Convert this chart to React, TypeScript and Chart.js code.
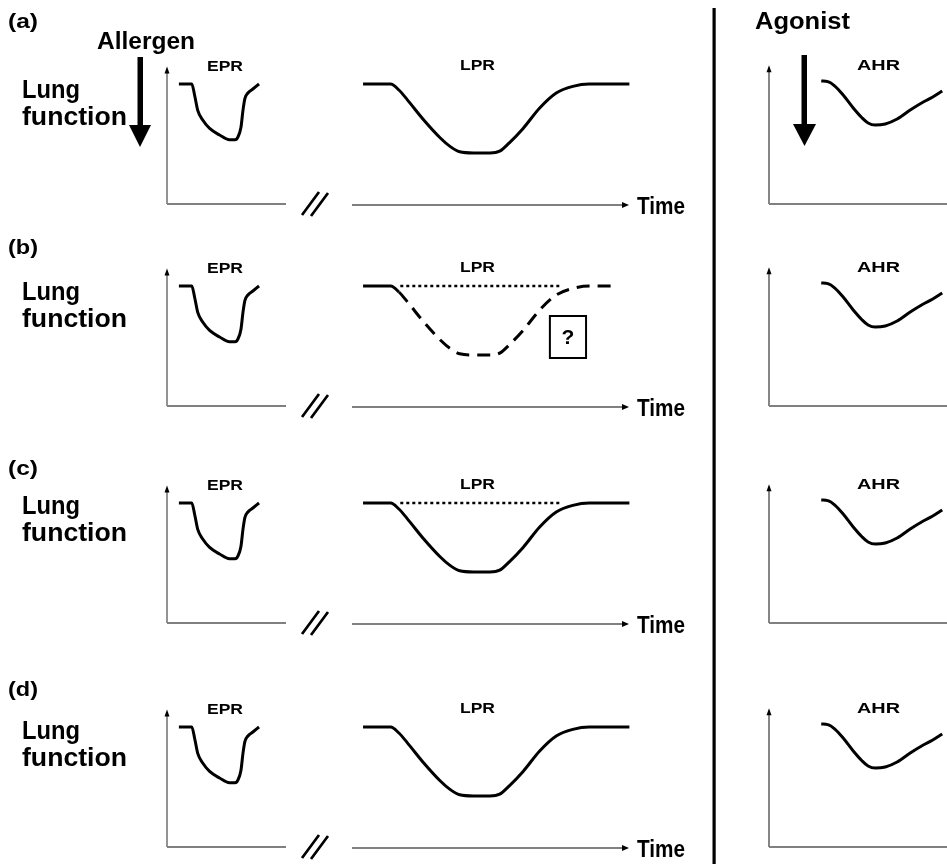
import React, { useEffect, useRef } from "react";
import { Chart, registerables } from "chart.js";

Chart.register(...registerables);

// ---------- data (schematic lung-function curves, fraction of baseline) ----------
const ROW_LABELS = ["(a)", "(b)", "(c)", "(d)"];

// Early-phase response (time in minutes)
const EPR_TIME = [6, 12.5, 14, 15.5, 18, 21.5, 26.5, 31.5, 34.3, 35.8, 37.3, 38.3, 39.3, 40.8, 43.3, 46.4];
const EPR_FEV = [1.0, 1.0, 0.9, 0.78, 0.7, 0.63, 0.575, 0.535, 0.535, 0.56, 0.64, 0.78, 0.88, 0.925, 0.958, 1.0];

// Late-phase response (time in hours)
const LPR_TIME = [0.4, 1.4, 1.7, 2.0, 2.6, 3.2, 3.55, 3.9, 4.4, 5.0, 5.35, 5.7, 6.2, 6.8, 7.4, 8.0, 8.6, 10.05];
const LPR_FEV = [1.0, 1.0, 0.95, 0.87, 0.7, 0.55, 0.48, 0.435, 0.425, 0.425, 0.44, 0.51, 0.63, 0.8, 0.925, 0.98, 1.0, 1.0];

// Late-phase response of row (b): uncertain (dashed), shorter plateau
const LPR_B_TIME = [0.4, 1.4, 1.7, 2.0, 2.6, 3.2, 3.55, 3.9, 4.4, 5.0, 5.35, 5.7, 6.2, 6.8, 7.4, 8.0, 8.6, 9.4];
const LPR_B_FEV = [1.0, 1.0, 0.95, 0.87, 0.7, 0.55, 0.48, 0.435, 0.425, 0.425, 0.44, 0.51, 0.63, 0.8, 0.925, 0.98, 1.0, 1.0];

// Baseline reference (dotted) in rows (b) and (c)
const REF_TIME = [1.75, 7.55];
const REF_FEV = [1.0, 1.0];
const REF_ROWS = [1, 2];

// Airway hyperresponsiveness to agonist (time in minutes)
const AHR_TIME = [8.8, 9.9, 11.1, 12.5, 14.2, 15.7, 16.7, 17.9, 19.6, 21.6, 23.8, 26.0, 27.6, 29.2];
const AHR_FEV = [1.025, 1.02, 0.983, 0.908, 0.8, 0.717, 0.675, 0.658, 0.667, 0.708, 0.783, 0.85, 0.892, 0.942];

// ---------- layout ----------
const W = 947;
const H = 864;
const ROW_SHIFT = [0, 202, 419, 643];
const LABEL_SHIFT = [0, 226, 447, 668];
const LUNG_SHIFT = [0, 202, 416, 641];
const BASE_Y = 204;
const UNIT_PX = 120;
const PANELS: Record<string, { x0: number; x1: number; tMax: number }> = {
  epr: { x0: 167, x1: 286, tMax: 60 },
  lpr: { x0: 352, x1: 628, tMax: 10 },
  ahr: { x0: 769, x1: 947, tMax: 30 },
};
const FONT = '"Liberation Sans", Arial, Helvetica, sans-serif';

const fx = (p: string, t: number) => {
  const P = PANELS[p];
  return P.x0 + (t / P.tMax) * (P.x1 - P.x0);
};
const fy = (row: number, v: number) => BASE_Y + ROW_SHIFT[row] - v * UNIT_PX;

const curve = (p: string, row: number, ts: number[], vs: number[], extra: any = {}) => ({
  data: ts.map((t, i) => ({ x: fx(p, t), y: fy(row, vs[i]) })),
  showLine: true,
  borderColor: "#000",
  borderWidth: 3,
  pointRadius: 0,
  fill: false,
  cubicInterpolationMode: "monotone",
  borderCapStyle: "butt",
  borderJoinStyle: "round",
  ...extra,
});

function buildDatasets() {
  const ds: any[] = [];
  for (let r = 0; r < 4; r++) {
    ds.push(curve("epr", r, EPR_TIME, EPR_FEV));
    if (r === 1) {
      ds.push(
        curve("lpr", r, LPR_B_TIME, LPR_B_FEV, {
          segment: {
            borderDash: (ctx: any) => (ctx.p0DataIndex >= 2 ? [13, 8] : []),
          },
        })
      );
    } else {
      ds.push(curve("lpr", r, LPR_TIME, LPR_FEV));
    }
    if (REF_ROWS.includes(r)) {
      ds.push(
        curve("lpr", r, REF_TIME, REF_FEV, {
          borderWidth: 2.5,
          borderDash: [3, 3],
          cubicInterpolationMode: "default",
          tension: 0,
        })
      );
    }
    ds.push(curve("ahr", r, AHR_TIME, AHR_FEV));
  }
  return ds;
}

function drawStretched(ctx: CanvasRenderingContext2D, text: string, left: number, baseline: number, size: number, width: number) {
  ctx.font = `bold ${size}px ${FONT}`;
  const w = ctx.measureText(text).width;
  ctx.save();
  ctx.translate(left, baseline);
  ctx.scale(width / w, 1);
  ctx.textBaseline = "alphabetic";
  ctx.textAlign = "left";
  ctx.fillStyle = "#000";
  ctx.fillText(text, 0, 0);
  ctx.restore();
}

function tri(ctx: CanvasRenderingContext2D, pts: number[][]) {
  ctx.beginPath();
  ctx.moveTo(pts[0][0], pts[0][1]);
  for (let i = 1; i < pts.length; i++) ctx.lineTo(pts[i][0], pts[i][1]);
  ctx.closePath();
  ctx.fill();
}

const decorPlugin = {
  id: "decor",
  beforeDatasetsDraw(chart: any) {
    const ctx: CanvasRenderingContext2D = chart.ctx;
    const sx = chart.scales.x;
    const sy = chart.scales.y;
    const X = (v: number) => sx.getPixelForValue(v);
    const Y = (v: number) => sy.getPixelForValue(v);
    ctx.save();
    for (let r = 0; r < 4; r++) {
      // EPR axes
      ctx.strokeStyle = "#6f6f6f";
      ctx.lineWidth = 1.5;
      ctx.beginPath();
      ctx.moveTo(X(fx("epr", 0)), Y(fy(r, 0)));
      ctx.lineTo(X(fx("epr", 0)), Y(fy(r, 1.12)));
      ctx.stroke();
      ctx.strokeStyle = "#808080";
      ctx.lineWidth = 2;
      ctx.beginPath();
      ctx.moveTo(X(fx("epr", 0)), Y(fy(r, 0)));
      ctx.lineTo(X(fx("epr", 60)), Y(fy(r, 0)));
      ctx.stroke();
      ctx.fillStyle = "#000";
      const ex = X(fx("epr", 0));
      const et = Y(fy(r, 1.13));
      tri(ctx, [[ex, et - 2], [ex - 2.5, et + 5], [ex + 2.5, et + 5]]);

      // LPR time axis
      ctx.strokeStyle = "#808080";
      ctx.lineWidth = 2;
      const ly = Y(fy(r, 0)) + 1;
      ctx.beginPath();
      ctx.moveTo(X(fx("lpr", 0)), ly);
      ctx.lineTo(X(fx("lpr", 10)) - 4, ly);
      ctx.stroke();
      const lx = X(fx("lpr", 10));
      tri(ctx, [[lx + 1, ly], [lx - 6, ly - 3], [lx - 6, ly + 3]]);

      // AHR axes
      ctx.strokeStyle = "#444";
      ctx.lineWidth = 1.3;
      ctx.beginPath();
      ctx.moveTo(X(fx("ahr", 0)), Y(fy(r, 0)));
      ctx.lineTo(X(fx("ahr", 0)), Y(fy(r, 1.12)));
      ctx.stroke();
      ctx.strokeStyle = "#808080";
      ctx.lineWidth = 2;
      ctx.beginPath();
      ctx.moveTo(X(fx("ahr", 0)), Y(fy(r, 0)));
      ctx.lineTo(X(fx("ahr", 30)), Y(fy(r, 0)));
      ctx.stroke();
      const ax = X(fx("ahr", 0));
      const at = Y(fy(r, 1.14));
      tri(ctx, [[ax, at - 2], [ax - 2.5, at + 5], [ax + 2.5, at + 5]]);

      // axis break "//"
      ctx.strokeStyle = "#000";
      ctx.lineWidth = 2.7;
      const by = Y(fy(r, 0));
      ctx.beginPath();
      ctx.moveTo(302, by + 11);
      ctx.lineTo(319, by - 12);
      ctx.moveTo(311, by + 12);
      ctx.lineTo(328, by - 11);
      ctx.stroke();

      // texts
      drawStretched(ctx, ROW_LABELS[r], 8, 28 + LABEL_SHIFT[r], 21, 30);
      drawStretched(ctx, "Lung", 22, 98 + LUNG_SHIFT[r], 25, 58);
      drawStretched(ctx, "function", 22, 125 + LUNG_SHIFT[r], 25, 105);
      drawStretched(ctx, "EPR", 207, 71 + ROW_SHIFT[r], 14, 36);
      drawStretched(ctx, "LPR", 460, 70 + ROW_SHIFT[r], 14, 35);
      drawStretched(ctx, "AHR", 857, 70 + ROW_SHIFT[r], 14, 43);
      drawStretched(ctx, "Time", 637, 214 + ROW_SHIFT[r], 23, 48);
    }

    // question box in row (b)
    ctx.strokeStyle = "#000";
    ctx.lineWidth = 2;
    const qx0 = X(fx("lpr", 7.17));
    const qx1 = X(fx("lpr", 8.48));
    const qy0 = Y(fy(1, 0.75));
    const qy1 = Y(fy(1, 0.4));
    ctx.strokeRect(qx0, qy0, qx1 - qx0, qy1 - qy0);
    ctx.font = `bold 21px ${FONT}`;
    ctx.textAlign = "center";
    ctx.textBaseline = "middle";
    ctx.fillStyle = "#000";
    ctx.fillText("?", (qx0 + qx1) / 2, (qy0 + qy1) / 2 + 1);

    // Allergen / Agonist headings and arrows
    drawStretched(ctx, "Allergen", 97, 49, 23, 98);
    drawStretched(ctx, "Agonist", 755, 29, 23, 95);
    ctx.fillStyle = "#000";
    ctx.fillRect(137.5, 57, 5.5, 70);
    tri(ctx, [[129, 125], [151, 125], [140, 147]]);
    ctx.fillRect(801.5, 55, 5.5, 70);
    tri(ctx, [[793, 124], [816, 124], [804.5, 146]]);

    // vertical separator
    ctx.fillRect(712.5, 8, 3.2, H - 8);
    ctx.restore();
  },
};

export default function App() {
  const ref = useRef<HTMLCanvasElement | null>(null);
  useEffect(() => {
    document.body.style.margin = "0";
    document.body.style.background = "#fff";
    if (!ref.current) return;
    const chart = new Chart(ref.current, {
      type: "scatter",
      data: { datasets: buildDatasets() },
      options: {
        animation: false,
        responsive: false,
        maintainAspectRatio: false,
        devicePixelRatio: 1,
        layout: { padding: 0 },
        scales: {
          x: { type: "linear", min: 0, max: W, display: false },
          y: { type: "linear", min: 0, max: H, reverse: true, display: false },
        },
        plugins: { legend: { display: false }, tooltip: { enabled: false } },
        elements: { point: { radius: 0 } },
      } as any,
      plugins: [decorPlugin],
    } as any);
    return () => chart.destroy();
  }, []);
  return (
    <div style={{ width: W, height: H, background: "#fff" }}>
      <canvas ref={ref} width={W} height={H} style={{ display: "block", width: W, height: H }} />
    </div>
  );
}
